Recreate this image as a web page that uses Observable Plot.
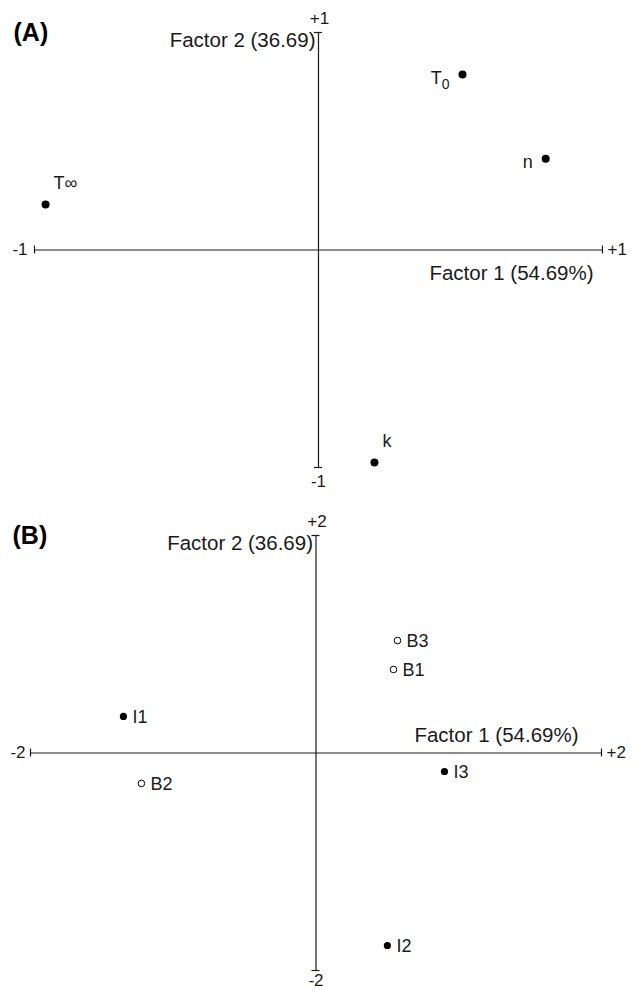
<!DOCTYPE html>
<html><head><meta charset="utf-8">
<script src="https://cdn.jsdelivr.net/npm/d3@7"></script>
<script src="https://cdn.jsdelivr.net/npm/@observablehq/plot@0.6"></script>
<style>
body{margin:0;background:#fff;}
#chart svg{display:block;}
</style>
</head><body><div id="chart"></div>
<script>
// ---- data ----
const panelALabels = ["T\u2080", "n", "T\u221E", "k"];
const panelAFactor1 = [0.507, 0.80, -0.961, 0.197];
const panelAFactor2 = [0.807, 0.42, 0.209, -0.977];

const panelBLabels = ["B3", "B1", "I1", "B2", "I3", "I2"];
const panelBFactor1 = [0.571, 0.543, -1.349, -1.223, 0.90, 0.50];
const panelBFactor2 = [1.034, 0.768, 0.336, -0.28, -0.17, -1.77];
const panelBGroup = ["B", "B", "I", "B", "I", "I"];

const panelTitles = ["(A)", "(B)"];
const factor1Title = "Factor 1 (54.69%)";
const factor2Title = "Factor 2 (36.69)";
const panelAExtent = [-1, 1];
const panelBExtent = [-2, 2];
const panelATickLabels = ["-1", "+1"];
const panelBTickLabels = ["-2", "+2"];

// ---- drawing ----
const FONT = "'Liberation Sans', Arial, Helvetica, sans-serif";
const INK = "#1a1a1a";
const TICK_FS = 17, TITLE_FS = 20.5, LABEL_FS = 18;

function axisMarks(ext, ticks, opt) {
  const ends = ext.map((v, i) => ({v, label: ticks[i]}));
  return [
    Plot.ruleY([0], {stroke: INK, strokeWidth: 1.2}),
    Plot.ruleX([0], {stroke: INK, strokeWidth: 1.2}),
    Plot.ruleX(ext, {x: d => d, y1: 0, y2: 0, insetTop: -4, insetBottom: -4, stroke: INK, strokeWidth: 1.2}),
    Plot.ruleY(ext, {y: d => d, x1: 0, x2: 0, insetLeft: -4, insetRight: -4, stroke: INK, strokeWidth: 1.2}),
    Plot.text([ends[0]], {x: "v", y: 0, text: "label", textAnchor: "end", dx: opt.leftDx, fontSize: TICK_FS, fill: INK, fontFamily: FONT}),
    Plot.text([ends[1]], {x: "v", y: 0, text: "label", textAnchor: "start", dx: 5, fontSize: TICK_FS, fill: INK, fontFamily: FONT}),
    Plot.text([ends[1]], {x: 0, y: "v", text: "label", dy: -14, dx: 1, fontSize: TICK_FS, fill: INK, fontFamily: FONT}),
    Plot.text([ends[0]], {x: 0, y: "v", text: "label", dy: opt.bottomDy, dx: 0, fontSize: TICK_FS, fill: INK, fontFamily: FONT}),
    Plot.text([factor1Title], {x: ext[1], y: 0, text: d => d, textAnchor: "end", dx: opt.f1Dx, dy: opt.f1Dy, fontSize: TITLE_FS, fill: INK, fontFamily: FONT}),
    Plot.text([factor2Title], {x: 0, y: ext[1], text: d => d, textAnchor: "end", dx: -3, dy: 8, fontSize: TITLE_FS, fill: INK, fontFamily: FONT}),
    Plot.text([opt.title], {frameAnchor: "top-left", text: d => d, textAnchor: "start", dx: opt.titleDx, dy: -9, fontSize: 25, fontWeight: "bold", fill: "#000", fontFamily: FONT})
  ];
}

// Panel A
const rowsA = panelALabels.map((label, i) => ({label, f1: panelAFactor1[i], f2: panelAFactor2[i]}));
const leftLabelled = new Set(["T\u2080", "n"]);
const plotA = Plot.plot({
  width: 639, height: 500,
  marginLeft: 34, marginRight: 37, marginTop: 32, marginBottom: 33,
  x: {domain: panelAExtent, axis: null},
  y: {domain: panelAExtent, axis: null},
  style: {fontFamily: FONT, background: "#fff"},
  marks: [
    ...axisMarks(panelAExtent, panelATickLabels, {leftDx: -7, bottomDy: 14, f1Dx: -9, f1Dy: 23, title: panelTitles[0], titleDx: -21}),
    Plot.dot(rowsA, {x: "f1", y: "f2", r: 4, fill: "#000", stroke: "none"}),
    Plot.text(rowsA.filter(d => leftLabelled.has(d.label)), {x: "f1", y: "f2", text: "label", textAnchor: "end", dx: -13, dy: 4, fontSize: LABEL_FS, fill: INK, fontFamily: FONT}),
    Plot.text(rowsA.filter(d => !leftLabelled.has(d.label)), {x: "f1", y: "f2", text: "label", textAnchor: "start", dx: 8, dy: -21, fontSize: LABEL_FS, fill: INK, fontFamily: FONT})
  ]
});

// render subscript digits as a lowered, smaller digit
const subs = {"\u2080": "0"};
plotA.querySelectorAll("text").forEach(t => {
  const s = t.textContent;
  const m = s.match(/^(.*?)([\u2080])$/);
  if (m && t.children.length === 0) {
    t.textContent = "";
    t.appendChild(document.createTextNode(m[1]));
    const ts = document.createElementNS("http://www.w3.org/2000/svg", "tspan");
    ts.setAttribute("font-size", "0.78em");
    ts.setAttribute("dy", "0.35em");
    ts.textContent = subs[m[2]];
    t.appendChild(ts);
  }
});

// Panel B
const rowsB = panelBLabels.map((label, i) => ({label, f1: panelBFactor1[i], f2: panelBFactor2[i], group: panelBGroup[i]}));
const plotB = Plot.plot({
  width: 639, height: 490,
  marginLeft: 30, marginRight: 38, marginTop: 35, marginBottom: 20,
  x: {domain: panelBExtent, axis: null},
  y: {domain: panelBExtent, axis: null},
  style: {fontFamily: FONT, background: "#fff"},
  marks: [
    ...axisMarks(panelBExtent, panelBTickLabels, {leftDx: -5, bottomDy: 10, f1Dx: -23, f1Dy: -18, title: panelTitles[1], titleDx: -18}),
    Plot.dot(rowsB.filter(d => d.group === "I"), {x: "f1", y: "f2", r: 3.6, fill: "#000", stroke: "none"}),
    Plot.dot(rowsB.filter(d => d.group === "B"), {x: "f1", y: "f2", r: 3.3, fill: "#fff", stroke: "#000", strokeWidth: 1}),
    Plot.text(rowsB, {x: "f1", y: "f2", text: "label", textAnchor: "start", dx: 9, dy: 1, fontSize: LABEL_FS, fill: INK, fontFamily: FONT})
  ]
});

document.getElementById("chart").append(plotA, plotB);
</script>
</body></html>
